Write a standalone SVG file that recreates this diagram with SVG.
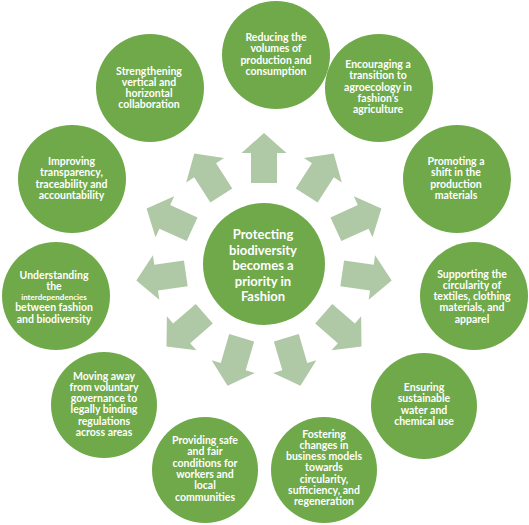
<svg xmlns="http://www.w3.org/2000/svg" width="529" height="525" viewBox="0 0 529 525">
<defs>
<style>
.c{fill:#6fa94a}
.a{fill:#afc8a5}
text{font-family:Lato,"Liberation Sans",sans-serif;font-weight:700;fill:#fff;text-anchor:middle}
.t{font-size:10.5px}
.s{font-size:8px}
.m{font-size:13px}
</style>
<polygon id="arr" points="79,-13 109,-13 109,-22.5 129,0 109,22.5 109,13 79,13"/>
</defs>
<rect width="529" height="525" fill="#fff"/>
<g id="connectors" class="a">
<use href="#arr" transform="translate(264 262) rotate(-90)"/>
<use href="#arr" transform="translate(264 262) rotate(-57.3)"/>
<use href="#arr" transform="translate(264 262) rotate(-24.5)"/>
<use href="#arr" transform="translate(264 262) rotate(8.2)"/>
<use href="#arr" transform="translate(264 262) rotate(40.9)"/>
<use href="#arr" transform="translate(264 262) rotate(73.6)"/>
<use href="#arr" transform="translate(264 262) rotate(106.4)"/>
<use href="#arr" transform="translate(264 262) rotate(139.1)"/>
<use href="#arr" transform="translate(264 262) rotate(171.8)"/>
<use href="#arr" transform="translate(264 262) rotate(204.5)"/>
<use href="#arr" transform="translate(264 262) rotate(237.3)"/>
</g>
<g id="center">
<circle class="c" cx="264" cy="264" r="61"/>
<text class="m"><tspan x="263" y="239">Protecting</tspan><tspan x="263" y="254.6">biodiversity</tspan><tspan x="263" y="270.2">becomes a</tspan><tspan x="263" y="285.8">priority in</tspan><tspan x="263" y="301.4">Fashion</tspan></text>
</g>
<g id="n1">
<circle class="c" cx="276" cy="55" r="54"/>
<text class="t"><tspan x="276" y="41">Reducing the</tspan><tspan x="276" y="52.3">volumes of</tspan><tspan x="276" y="63.6">production and</tspan><tspan x="276" y="74.9">consumption</tspan></text>
</g>
<g id="n2">
<circle class="c" cx="379" cy="88" r="54"/>
<text class="t"><tspan x="378" y="68">Encouraging a</tspan><tspan x="378" y="79.3">transition to</tspan><tspan x="378" y="90.6">agroecology in</tspan><tspan x="378" y="101.9">fashion’s</tspan><tspan x="378" y="113.2">agriculture</tspan></text>
</g>
<g id="n3">
<circle class="c" cx="457" cy="179" r="54"/>
<text class="t"><tspan x="456" y="165">Promoting a</tspan><tspan x="456" y="176.3">shift in the</tspan><tspan x="456" y="187.6">production</tspan><tspan x="456" y="198.9">materials</tspan></text>
</g>
<g id="n4">
<circle class="c" cx="474" cy="296" r="54"/>
<text class="t"><tspan x="472" y="277.5">Supporting the</tspan><tspan x="472" y="288.8">circularity of</tspan><tspan x="472" y="300.1">textiles, clothing</tspan><tspan x="472" y="311.4">materials, and</tspan><tspan x="472" y="322.7">apparel</tspan></text>
</g>
<g id="n5">
<circle class="c" cx="424" cy="406" r="53"/>
<text class="t"><tspan x="424" y="391">Ensuring</tspan><tspan x="424" y="402.3">sustainable</tspan><tspan x="424" y="413.6">water and</tspan><tspan x="424" y="424.9">chemical use</tspan></text>
</g>
<g id="n6">
<circle class="c" cx="324" cy="470" r="53"/>
<text class="t"><tspan x="324" y="437.5">Fostering</tspan><tspan x="324" y="448.8">changes in</tspan><tspan x="324" y="460.1">business models</tspan><tspan x="324" y="471.4">towards</tspan><tspan x="324" y="482.7">circularity,</tspan><tspan x="324" y="494">sufficiency, and</tspan><tspan x="324" y="505.3">regeneration</tspan></text>
</g>
<g id="n7">
<circle class="c" cx="205" cy="470" r="53"/>
<text class="t"><tspan x="205" y="444">Providing safe</tspan><tspan x="205" y="455.3">and fair</tspan><tspan x="205" y="466.6">conditions for</tspan><tspan x="205" y="477.9">workers and</tspan><tspan x="205" y="489.2">local</tspan><tspan x="205" y="500.5">communities</tspan></text>
</g>
<g id="n8">
<circle class="c" cx="104" cy="405" r="53"/>
<text class="t"><tspan x="104" y="379.5">Moving away</tspan><tspan x="104" y="390.8">from voluntary</tspan><tspan x="104" y="402.1">governance to</tspan><tspan x="104" y="413.4">legally binding</tspan><tspan x="104" y="424.7">regulations</tspan><tspan x="104" y="436">across areas</tspan></text>
</g>
<g id="n9">
<circle class="c" cx="56" cy="296" r="54"/>
<text class="t"><tspan x="54" y="278.5">Understanding</tspan><tspan x="54" y="289.8">the</tspan><tspan class="s" x="54" y="300">interdependencies</tspan><tspan x="54" y="311">between fashion</tspan><tspan x="54" y="322.5">and biodiversity</tspan></text>
</g>
<g id="n10">
<circle class="c" cx="72" cy="179" r="54"/>
<text class="t"><tspan x="71.5" y="165">Improving</tspan><tspan x="71.5" y="176.3">transparency,</tspan><tspan x="71.5" y="187.6">traceability and</tspan><tspan x="71.5" y="198.9">accountability</tspan></text>
</g>
<g id="n11">
<circle class="c" cx="150" cy="88" r="54"/>
<text class="t"><tspan x="149" y="74.5">Strengthening</tspan><tspan x="149" y="85.8">vertical and</tspan><tspan x="149" y="97.1">horizontal</tspan><tspan x="149" y="108.4">collaboration</tspan></text>
</g>
</svg>
